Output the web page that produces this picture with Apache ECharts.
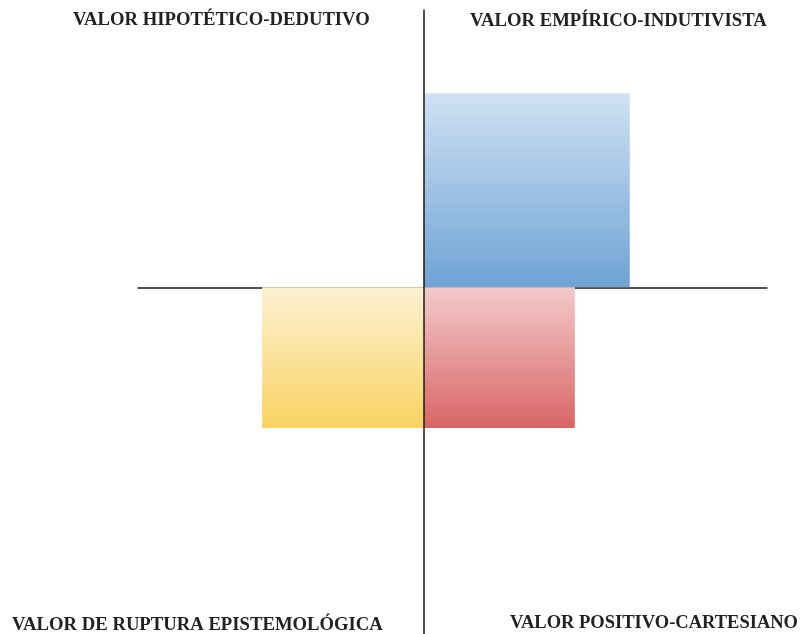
<!DOCTYPE html>
<html>
<head>
<meta charset="utf-8">
<script src="https://cdn.jsdelivr.net/npm/echarts@6/dist/echarts.min.js"></script>
<style>html,body{margin:0;padding:0;background:#fff;}#c{width:801px;height:634px;}</style>
</head>
<body>
<div id="c"></div>
<script>
// quadrant labels
const quadrantLabels = ['VALOR HIPOTÉTICO-DEDUTIVO', 'VALOR EMPÍRICO-INDUTIVISTA', 'VALOR DE RUPTURA EPISTEMOLÓGICA', 'VALOR POSITIVO-CARTESIANO'];
// rectangles: [xStart, xEnd, yStart, yEnd]
const rectNames = ['Empírico-Indutivista', 'Positivo-Cartesiano', 'Ruptura Epistemológica'];
const rectX0 = [0, 0, -2.83];
const rectX1 = [3.6, 2.64, 0];
const rectY0 = [0, -2.03, -2.03];
const rectY1 = [2.8, 0, 0];
const xRange = [-5, 6];
const yRange = [-5, 4];

const gradients = [
  ['#cfe1f3', '#6ea3d4'],
  ['#f3caca', '#d96565'],
  ['#fdf1d3', '#f9d360']
];

const data = rectNames.map((n, i) => [rectX0[i], rectX1[i], rectY0[i], rectY1[i], i]);

const chart = echarts.init(document.getElementById('c'));
const font = '"Liberation Serif", "Times New Roman", serif';
const fs = 'bold 18.7px ';
chart.setOption({
  animation: false,
  grid: { left: 138, right: 34, top: 10, bottom: 0 },
  xAxis: {
    type: 'value', min: xRange[0], max: xRange[1],
    axisLine: { onZero: true, lineStyle: { color: '#1a1a1a', width: 1.5 } },
    axisTick: { show: false }, axisLabel: { show: false }, splitLine: { show: false }
  },
  yAxis: {
    type: 'value', min: yRange[0], max: yRange[1], z: 5,
    axisLine: { onZero: true, lineStyle: { color: '#1a1a1a', width: 1.5 } },
    axisTick: { show: false }, axisLabel: { show: false }, splitLine: { show: false }
  },
  series: [{
    type: 'custom',
    z: 3,
    data: data,
    renderItem: function (params, api) {
      const p0 = api.coord([api.value(0), api.value(3)]);
      const p1 = api.coord([api.value(1), api.value(2)]);
      const g = gradients[api.value(4)];
      return {
        type: 'rect',
        shape: { x: p0[0], y: p0[1], width: p1[0] - p0[0], height: p1[1] - p0[1] },
        style: {
          fill: new echarts.graphic.LinearGradient(0, 0, 0, 1, [
            { offset: 0, color: g[0] }, { offset: 1, color: g[1] }
          ])
        }
      };
    }
  }],
  graphic: [
    { type: 'text', left: 73, top: 11, style: { text: quadrantLabels[0], font: fs + font, fill: '#222' } },
    { type: 'text', left: 470, top: 12, style: { text: quadrantLabels[1], font: fs + font, fill: '#222' } },
    { type: 'text', left: 12, top: 616, style: { text: quadrantLabels[2], font: fs + font, fill: '#222' } },
    { type: 'text', left: 510, top: 614, style: { text: quadrantLabels[3], font: 'bold 18.5px ' + font, fill: '#222' } }
  ]
});
</script>
</body>
</html>
